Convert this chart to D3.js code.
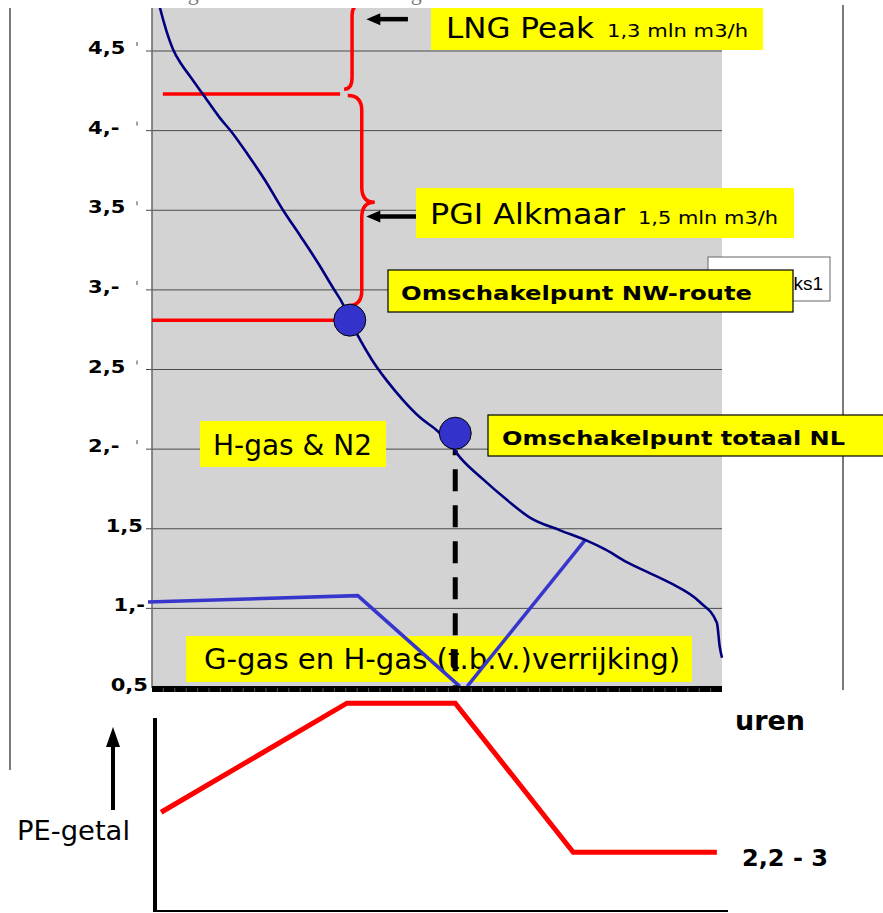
<!DOCTYPE html>
<html>
<head>
<meta charset="utf-8">
<script src="https://cdn.jsdelivr.net/npm/d3@7"></script>
<style>
  body { margin: 0; background: #fff; }
  svg { display: block; }
</style>
</head>
<body>
<div id="chart"></div>
<script>
// duration curve of the gas demand (x = share of the year's hours, y = demand)
const loadHours = [1.05, 1.4, 2.5, 3.7, 5.1, 6.7, 8.9, 11.9, 14.0, 16.8, 19.8, 23.0, 26.0, 29.1, 31.8, 33.5, 34.7,
  36.0, 38.6, 41.2, 44.0, 47.0, 50.2, 52.3, 54.0, 58.1, 62.3, 66.3, 71.6, 76.0, 79.5, 83.3, 87.4, 90.9, 96.1, 99.1, 99.6, 100]
const loadValues = [4.82, 4.77, 4.63, 4.51, 4.42, 4.34, 4.23, 4.08, 3.99, 3.85, 3.69, 3.50, 3.34, 3.17, 3.01, 2.91, 2.81,
  2.72, 2.56, 2.43, 2.31, 2.20, 2.11, 2.03, 1.95, 1.81, 1.68, 1.57, 1.49, 1.43, 1.37, 1.29, 1.22, 1.16, 1.04, 0.91, 0.76, 0.69]

// G-gas / enrichment line (two pieces)
const gGasHoursA = [-0.7, 36.1, 54.0]
const gGasValuesA = [1.04, 1.08, 0.51]
const gGasHoursB = [55.3, 76.0]
const gGasValuesB = [0.51, 1.43]

// red levels and switch points
const peakLevel = { from: 1.9, to: 33.0, value: 4.23 }
const nwLevel = { from: 0, to: 32.5, value: 2.81 }
const switchPoints = [{ hour: 34.7, value: 2.81 }, { hour: 53.2, value: 2.10 }]
const lngBrace = { hour: 35.1, top: 5.4, tip: 4.80, bottom: 4.26 }
const pgiBrace = { hour: 36.8, top: 4.22, tip: 3.55, bottom: 2.90 }
const lngArrow = { from: 44.9, to: 37.6, value: 4.70 }
const pgiArrow = { from: 47.0, to: 37.6, value: 3.46 }

// PE-getal (lower chart)
const peHours = [1.6, 34.2, 53.2, 73.9, 99.1]
const peValues = [4.05, 8, 8, 2.6, 2.6]

const yTicks = [0.5, 1, 1.5, 2, 2.5, 3, 3.5, 4, 4.5]
const yTickLabels = ['0,5', '1,-', '1,5', '2,-', '2,5', '3,-', '3,5', '4,-', '4,5']

const width = 883, height = 913
const plot = { left: 152, right: 722, top: 8, bottom: 688 }

const svg = d3.select('#chart').append('svg')
  .attr('width', width)
  .attr('height', height)

const x = d3.scaleLinear().domain([0, 100]).range([plot.left, plot.right])
const y = d3.scaleLinear().domain([0.5, 4.5]).range([plot.bottom, 51])
const yPE = d3.scaleLinear().domain([0, 10]).range([924, 648])

const font = 'DejaVu Sans'

function label(g, px, py, txt, size, weight, len) {
  const t = g.append('text')
    .attr('x', px).attr('y', py)
    .attr('font-family', font)
    .attr('font-size', size)
    .attr('font-weight', weight)
    .attr('fill', '#000')
    .text(txt)
  if (len) t.attr('textLength', len).attr('lengthAdjust', 'spacingAndGlyphs')
  return t
}

function box(g, bx, by, bw, bh, stroke) {
  g.append('rect')
    .attr('x', bx).attr('y', by)
    .attr('width', bw).attr('height', bh)
    .attr('fill', '#ffff00')
    .attr('stroke', stroke || 'none')
    .attr('stroke-width', 1.2)
}

// curly brace "}" with the tip pointing right
function brace(b, depth, curl, r) {
  const bx = x(b.hour), y1 = y(b.top), y2 = y(b.bottom), yt = y(b.tip)
  return `M${bx - curl},${y1} Q${bx},${y1} ${bx},${y1 + r} L${bx},${yt - r} Q${bx},${yt} ${bx + depth},${yt}` +
    ` Q${bx},${yt} ${bx},${yt + r} L${bx},${y2 - r} Q${bx},${y2} ${bx - curl},${y2}`
}

// cut-off caption at the very top (only its lower edge is in the picture)
svg.append('text')
  .attr('x', 440).attr('y', 0)
  .attr('text-anchor', 'end')
  .attr('font-family', 'Liberation Serif')
  .attr('font-size', 22)
  .attr('fill', '#777')
  .text('Jaarbelastingduurkromme van het G-gas')

// outer frame lines
svg.append('line').attr('x1', 10).attr('x2', 10).attr('y1', 8).attr('y2', 770)
  .attr('stroke', '#222').attr('stroke-width', 1.2)
svg.append('line').attr('x1', 843).attr('x2', 843).attr('y1', 5).attr('y2', 690)
  .attr('stroke', '#222').attr('stroke-width', 1.2)

svg.append('defs').append('clipPath').attr('id', 'clip')
  .append('rect').attr('x', 0).attr('y', plot.top).attr('width', width).attr('height', height)

// plot background
svg.append('rect')
  .attr('x', plot.left).attr('y', plot.top)
  .attr('width', plot.right - plot.left).attr('height', plot.bottom - plot.top)
  .attr('fill', '#d3d3d3')

// gridlines + outer ticks
svg.append('g').selectAll('line')
  .data(yTicks.slice(1))
  .enter().append('line')
  .attr('x1', plot.left - 6).attr('x2', plot.right)
  .attr('y1', d => y(d)).attr('y2', d => y(d))
  .attr('stroke', '#4a4a4a').attr('stroke-width', 1)

// small tick marks next to the labels
svg.append('g').selectAll('line')
  .data(yTicks.slice(3))
  .enter().append('line')
  .attr('x1', 137).attr('x2', 137)
  .attr('y1', d => y(d) - 9).attr('y2', d => y(d) - 5)
  .attr('stroke', '#444').attr('stroke-width', 1)

// y labels
const labelEnd = [148, 145, 143]
svg.append('g').selectAll('text')
  .data(yTicks)
  .enter().append('text')
  .attr('x', (d, i) => i < 3 ? labelEnd[i] : 88)
  .attr('y', d => y(d) + 3)
  .attr('text-anchor', (d, i) => i < 3 ? 'end' : 'start')
  .attr('font-family', font)
  .attr('font-weight', 'bold')
  .attr('font-size', 18)
  .text((d, i) => yTickLabels[i])
  .each(function () {
    const len = this.getComputedTextLength()
    d3.select(this).attr('textLength', len * 1.17).attr('lengthAdjust', 'spacingAndGlyphs')
  })

// left axis line
svg.append('line')
  .attr('x1', plot.left).attr('x2', plot.left)
  .attr('y1', plot.top).attr('y2', plot.bottom)
  .attr('stroke', '#666').attr('stroke-width', 1.5)

// boxes behind the lines
const back = svg.append('g')
box(back, 200, 421, 186, 46)
label(back, 213, 455, 'H-gas & N2', 29, 'normal', 159)
box(back, 186, 636, 506, 46)
label(back, 204, 669, 'G-gas en H-gas (t.b.v.)verrijking)', 28, 'normal', 476)

const marks = svg.append('g').attr('clip-path', 'url(#clip)')

// blue G-gas line
const gLine = d3.line().x(d => x(d[0])).y(d => y(d[1]))
marks.append('path')
  .datum(d3.zip(gGasHoursA, gGasValuesA))
  .attr('d', gLine)
  .attr('fill', 'none').attr('stroke', '#3636cc').attr('stroke-width', 3.5)
marks.append('path')
  .datum(d3.zip(gGasHoursB, gGasValuesB))
  .attr('d', gLine)
  .attr('fill', 'none').attr('stroke', '#3636cc').attr('stroke-width', 3.5)

// dashed drop line from the NL switch point
marks.append('line')
  .attr('x1', x(switchPoints[1].hour)).attr('x2', x(switchPoints[1].hour))
  .attr('y1', y(switchPoints[1].value) + 17).attr('y2', y(0.5))
  .attr('stroke', '#000').attr('stroke-width', 5)
  .attr('stroke-dasharray', '22,14').attr('stroke-dashoffset', 17)

// red levels and braces
;[peakLevel, nwLevel].forEach(l => {
  marks.append('line')
    .attr('x1', x(l.from)).attr('x2', x(l.to))
    .attr('y1', y(l.value)).attr('y2', y(l.value))
    .attr('stroke', '#ff0000').attr('stroke-width', 3.5)
})
marks.append('path').attr('d', brace(lngBrace, 12, 8, 12))
  .attr('fill', 'none').attr('stroke', '#ff0000').attr('stroke-width', 3.5)
marks.append('path').attr('d', brace(pgiBrace, 13, 14, 15))
  .attr('fill', 'none').attr('stroke', '#ff0000').attr('stroke-width', 3.5)

// duration curve
marks.append('path')
  .datum(d3.zip(loadHours, loadValues))
  .attr('d', d3.line().x(d => x(d[0])).y(d => y(d[1])).curve(d3.curveMonotoneX))
  .attr('fill', 'none').attr('stroke', '#00007f').attr('stroke-width', 2.6)

// switch points
marks.selectAll('circle')
  .data(switchPoints)
  .enter().append('circle')
  .attr('cx', d => x(d.hour)).attr('cy', d => y(d.value))
  .attr('r', 16)
  .attr('fill', '#3333cc').attr('stroke', '#000').attr('stroke-width', 1)

// black arrows
;[lngArrow, pgiArrow].forEach(a => {
  const ay = y(a.value), tip = x(a.to)
  marks.append('line')
    .attr('x1', x(a.from)).attr('x2', tip + 10)
    .attr('y1', ay).attr('y2', ay)
    .attr('stroke', '#000').attr('stroke-width', 4.5)
  marks.append('path')
    .attr('d', `M${tip},${ay} L${tip + 14},${ay - 6} L${tip + 14},${ay + 6} Z`)
    .attr('fill', '#000')
})

// bottom axis band
svg.append('rect')
  .attr('x', plot.left).attr('y', plot.bottom - 2)
  .attr('width', plot.right - plot.left).attr('height', 6)
  .attr('fill', '#000')
svg.append('g').selectAll('line')
  .data(d3.range(1, 50))
  .enter().append('line')
  .attr('x1', d => x(d * 2)).attr('x2', d => x(d * 2))
  .attr('y1', plot.bottom).attr('y2', plot.bottom + 4)
  .attr('stroke', '#555').attr('stroke-width', 1)

// legend box (partly hidden)
svg.append('rect')
  .attr('x', 708).attr('y', 257).attr('width', 122).attr('height', 44)
  .attr('fill', '#fff').attr('stroke', '#666').attr('stroke-width', 1)
svg.append('text')
  .attr('x', 823).attr('y', 290)
  .attr('text-anchor', 'end')
  .attr('font-family', 'Liberation Sans Narrow, Liberation Sans')
  .attr('font-size', 19)
  .text('Reeks1')

// front labels
const front = svg.append('g')
box(front, 431, 8, 332, 42)
label(front, 446, 38, 'LNG Peak', 29, 'normal', 148)
label(front, 607, 37, '1,3 mln m3/h', 17, 'normal', 141)
box(front, 416, 188, 378, 50)
label(front, 430, 224, 'PGI Alkmaar', 29, 'normal', 195)
label(front, 638, 224, '1,5 mln m3/h', 17, 'normal', 140)
box(front, 388, 270, 405, 42, '#000')
label(front, 401, 300, 'Omschakelpunt NW-route', 20, 'bold', 351)
box(front, 488, 415, 400, 41, '#000')
label(front, 502, 445, 'Omschakelpunt totaal NL', 20, 'bold', 343)

// lower chart: PE-getal
const pe = svg.append('g')
pe.append('line')
  .attr('x1', 155).attr('x2', 155).attr('y1', 718).attr('y2', 912)
  .attr('stroke', '#000').attr('stroke-width', 4)
pe.append('line')
  .attr('x1', 153).attr('x2', 728).attr('y1', 911).attr('y2', 911)
  .attr('stroke', '#000').attr('stroke-width', 2)
pe.append('path')
  .datum(d3.zip(peHours, peValues))
  .attr('d', d3.line().x(d => x(d[0])).y(d => yPE(d[1])))
  .attr('fill', 'none').attr('stroke', '#ff0000').attr('stroke-width', 5)

// up arrow
pe.append('line')
  .attr('x1', 113).attr('x2', 113).attr('y1', 810).attr('y2', 744)
  .attr('stroke', '#000').attr('stroke-width', 4)
pe.append('path')
  .attr('d', 'M113,727 L106,747 L120,747 Z')
  .attr('fill', '#000')

label(pe, 17, 840, 'PE-getal', 27, 'normal', 113)
label(pe, 735, 730, 'uren', 26, 'bold', 70)
label(pe, 742, 866, '2,2 - 3', 23, 'bold', 86)
</script>
</body>
</html>
